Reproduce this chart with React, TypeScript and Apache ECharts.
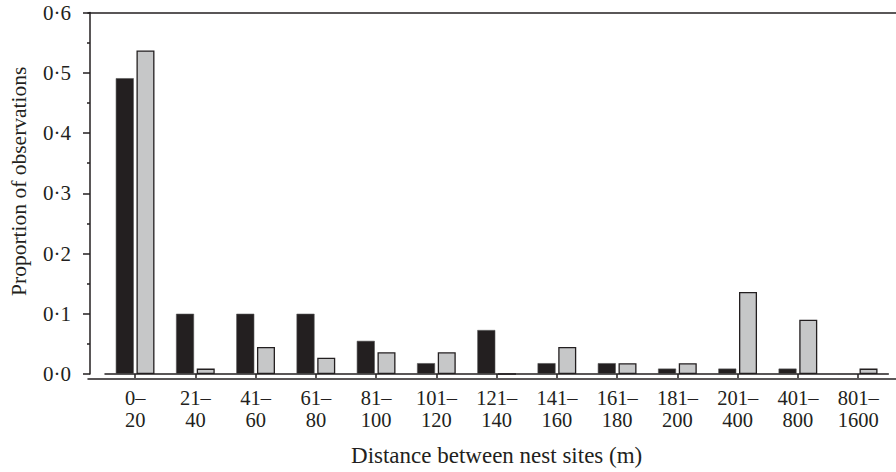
import React, { useEffect, useRef } from 'react';
import * as echarts from 'echarts';

const categories = [
  '0–\n20', '21–\n40', '41–\n60', '61–\n80', '81–\n100', '101–\n120', '121–\n140',
  '141–\n160', '161–\n180', '181–\n200', '201–\n400', '401–\n800', '801–\n1600',
];
const seriesBlack = [0.491, 0.1, 0.1, 0.1, 0.055, 0.018, 0.073, 0.018, 0.018, 0.009, 0.009, 0.009, 0];
const seriesGrey = [0.537, 0.009, 0.045, 0.027, 0.036, 0.036, 0, 0.045, 0.018, 0.018, 0.136, 0.09, 0.009];
const yTicks = [0, 0.1, 0.2, 0.3, 0.4, 0.5, 0.6];

const xTitle = 'Distance between nest sites (m)';
const yTitle = 'Proportion of observations';

const FONT = '"Liberation Serif", "Times New Roman", serif';
const INK = '#231f20';

export default function App() {
  const ref = useRef<HTMLDivElement>(null);
  useEffect(() => {
    if (!ref.current) return;
    const chart = echarts.init(ref.current, undefined, { renderer: 'svg' });
    const step = yTicks[1] - yTicks[0];
    const frameAxis = (position: 'top' | 'bottom') => ({
      type: 'value',
      gridIndex: 1,
      position,
      min: 0,
      max: 1,
      axisLine: { show: true, onZero: false, lineStyle: { color: INK, width: 1.5 } },
      axisTick: { show: false },
      axisLabel: { show: false },
      splitLine: { show: false },
    });
    chart.setOption({
      animation: false,
      backgroundColor: '#ffffff',
      textStyle: { fontFamily: FONT, color: INK },
      grid: [
        { left: 103, right: 7.7, top: 12.5, bottom: 93, containLabel: false },
        { left: 88, right: -6, top: 12.5, bottom: 93, show: false },
      ],
      xAxis: [
        {
          type: 'category',
          gridIndex: 0,
          data: categories,
          axisLine: { show: true, lineStyle: { color: INK, width: 1.5 } },
          axisTick: { show: true, alignWithLabel: true, length: 4, lineStyle: { color: INK, width: 1.5 } },
          axisLabel: {
            interval: 0, margin: 13, fontSize: 20.5, lineHeight: 22,
            fontFamily: FONT, color: INK, align: 'center',
          },
          name: xTitle,
          nameLocation: 'middle',
          nameGap: 70,
          nameTextStyle: { fontSize: 23, fontFamily: FONT, color: INK },
        },
        frameAxis('bottom'),
        frameAxis('top'),
      ],
      yAxis: [
        {
          type: 'value',
          gridIndex: 0,
          min: yTicks[0],
          max: yTicks[yTicks.length - 1],
          interval: step,
          offset: 15,
          axisLine: { show: true, lineStyle: { color: INK, width: 1.5 } },
          axisTick: { show: true, length: 7, lineStyle: { color: INK, width: 1.5 } },
          minorTick: { show: true, splitNumber: 2, length: 3, lineStyle: { color: INK, width: 1.5 } },
          splitLine: { show: false },
          axisLabel: {
            margin: 19, fontSize: 21, fontFamily: FONT, color: INK,
            formatter: (v: number) => v.toFixed(1).replace('.', '·'),
          },
          name: yTitle,
          nameLocation: 'middle',
          nameGap: 60,
          nameRotate: 90,
          nameTextStyle: { fontSize: 21.5, fontFamily: FONT, color: INK, padding: [0, 0, 0, 24] },
        },
        { type: 'value', gridIndex: 1, show: false, min: 0, max: 1 },
      ],
      series: [
        {
          type: 'bar',
          xAxisIndex: 0,
          yAxisIndex: 0,
          data: seriesBlack,
          barWidth: 18,
          barGap: '15%',
          itemStyle: { color: INK, borderColor: '#555', borderWidth: 0.6 },
          z: 3,
        },
        {
          type: 'bar',
          xAxisIndex: 0,
          yAxisIndex: 0,
          data: seriesGrey,
          barWidth: 18,
          barGap: '15%',
          itemStyle: { color: '#c6c7c8', borderColor: INK, borderWidth: 1.3 },
          z: 3,
        },
      ],
    });
    return () => chart.dispose();
  }, []);
  return (
    <div
      ref={ref}
      style={{ position: 'fixed', left: 0, top: 0, width: 896, height: 472, background: '#fff' }}
    />
  );
}
